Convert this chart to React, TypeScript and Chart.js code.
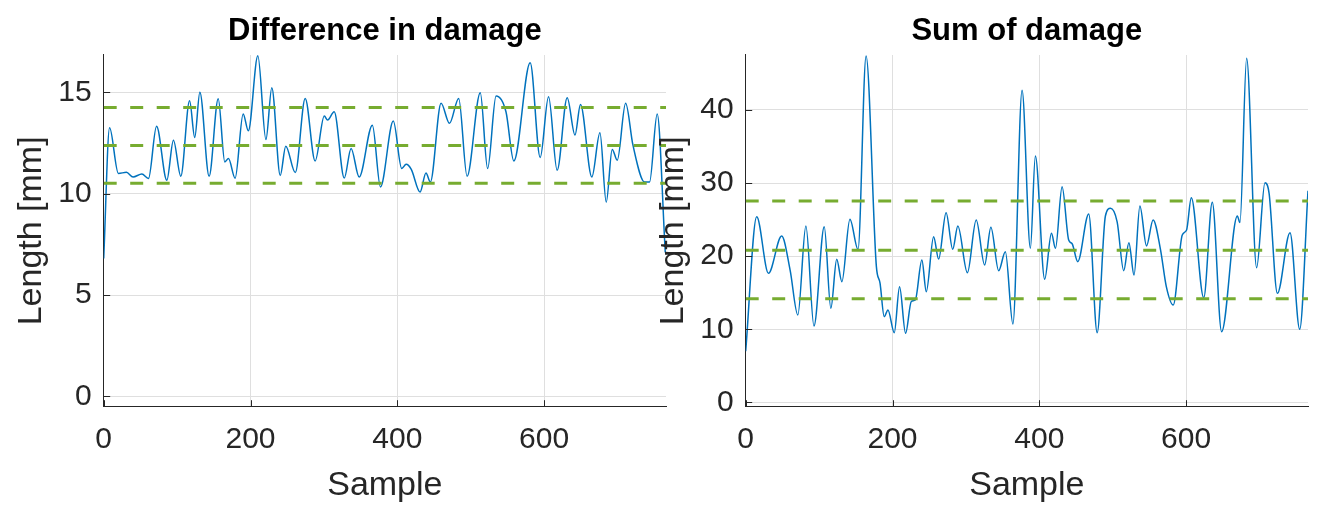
import React, { useEffect, useRef } from 'react';
import Chart from 'chart.js/auto';

// sample axis
const X_MAX = 766;
const xTicks = [0, 200, 400, 600];

// left panel: difference in damage
const diffYTicks = [0, 5, 10, 15];
const diffSamples = [
    0, 8, 20, 31, 40, 52, 61, 72, 86, 95, 105, 117, 124, 131, 143.6, 156, 165, 170, 179, 190,
    197, 210, 221, 229, 240.5, 248, 261, 274.5, 288, 300.5, 305, 314, 327.7, 337, 348, 366, 377,
    394.5, 406, 412, 419, 431, 439, 445, 459.6, 471, 483.6, 495, 513, 523, 534.5, 548, 558.7,
    581, 594.6, 606, 617.7, 631.4, 642, 649.5, 665, 676, 684.6, 692.7, 699.6, 711, 721, 737,
    743.6, 754, 765,
];
const diffValues = [
    6.8, 13.25, 11.0, 11.05, 10.82, 10.97, 10.75, 13.33, 10.66, 12.64, 10.86, 14.58, 12.77, 15.0,
    10.86, 14.68, 11.56, 11.74, 10.76, 13.93, 13.1, 16.8, 12.67, 15.23, 10.9, 12.34, 11.04, 14.7,
    11.61, 13.83, 13.63, 14.04, 10.77, 12.23, 10.82, 13.38, 10.33, 13.58, 11.24, 11.45, 11.2,
    10.08, 11.02, 10.57, 14.46, 13.47, 14.7, 10.86, 14.98, 11.24, 14.82, 14.04, 11.61, 16.46,
    11.78, 14.78, 11.15, 14.73, 12.89, 14.4, 10.82, 13.0, 9.58, 12.18, 11.65, 14.46, 12.39,
    10.57, 10.57, 13.93, 7.1,
];
const diffBands = [10.51, 12.38, 14.25];

// right panel: sum of damage
const sumYTicks = [0, 10, 20, 30, 40];
const sumSamples = [
    0, 15, 31, 49, 60.5, 71, 82, 93, 107, 116, 124, 131, 142, 153, 164, 178, 183, 188.7, 193.8,
    202.4, 209.6, 217.8, 225.6, 231, 240, 246, 256, 262.8, 273, 282, 289, 302, 314, 325.5, 334,
    344.6, 353.7, 364, 376.5, 387.8, 394.6, 407.3, 416.5, 422, 431, 440, 444.7, 452.3, 467.3,
    478.8, 490, 497, 506, 515, 522, 529, 537, 546, 555, 565, 573, 582.4, 594.7, 600.6, 607, 624,
    635.6, 648.3, 669.7, 673.3, 682.4, 696, 707.4, 713, 724.3, 741.5, 754.7, 766,
];
const sumValues = [
    7.0, 25.4, 17.66, 22.76, 18.1, 11.96, 24.13, 10.45, 24.04, 12.87, 19.58, 16.51, 25.05, 20.9,
    47.4, 18.6, 16.3, 11.72, 12.64, 9.54, 15.83, 9.45, 13.8, 14.0, 19.48, 15.15, 22.67, 19.6,
    25.95, 20.94, 24.13, 17.74, 24.95, 18.8, 23.95, 18.02, 20.6, 10.73, 42.7, 21.08, 33.7, 16.84,
    23.13, 21.08, 29.5, 22.2, 21.7, 19.25, 25.77, 9.54, 25.5, 26.55, 24.7, 18.02, 21.85, 17.43,
    26.87, 21.4, 24.95, 20.94, 15.83, 13.32, 22.9, 23.58, 28.0, 14.32, 27.37, 9.67, 25.5, 24.6,
    47.07, 18.43, 30.06, 28.6, 14.92, 23.2, 10.0, 28.96,
];
const sumBands = [14.19, 20.82, 27.54];

const FONT = '"Liberation Sans", Arial, Helvetica, sans-serif';
const AXIS_COLOR = '#262626';
const GRID_COLOR = '#dfdfdf';

// matlab style ticks pointing into the plot
const inwardTicks = {
    id: 'inwardTicks',
    afterDatasetsDraw(chart: any) {
        const { ctx, chartArea, scales } = chart;
        const len = 6.5;
        ctx.save();
        ctx.strokeStyle = AXIS_COLOR;
        ctx.lineWidth = 1;
        ctx.beginPath();
        scales.x.ticks.forEach((t: any) => {
            const px = Math.round(scales.x.getPixelForValue(t.value)) + 0.5;
            ctx.moveTo(px, chartArea.bottom);
            ctx.lineTo(px, chartArea.bottom - len);
        });
        scales.y.ticks.forEach((t: any) => {
            const py = Math.round(scales.y.getPixelForValue(t.value)) + 0.5;
            ctx.moveTo(chartArea.left, py);
            ctx.lineTo(chartArea.left + len, py);
        });
        ctx.stroke();
        ctx.restore();
    },
};

interface PanelProps {
    title: string;
    samples: number[];
    values: number[];
    bands: number[];
    yTicks: number[];
    yMin: number;
    yMax: number;
}

const DamagePanel: React.FC<PanelProps> = ({ title, samples, values, bands, yTicks, yMin, yMax }) => {
    const chartRef = useRef<HTMLCanvasElement>(null);
    const chartInstance = useRef<Chart | null>(null);

    useEffect(() => {
        if (!chartRef.current) return;
        if (chartInstance.current) chartInstance.current.destroy();

        const ctx = chartRef.current.getContext('2d');
        if (!ctx) return;

        chartInstance.current = new Chart(ctx, {
            type: 'line',
            data: {
                datasets: [
                    ...bands.map(b => ({
                        data: [{ x: 0, y: b }, { x: X_MAX, y: b }],
                        borderColor: '#77AC30',
                        borderWidth: 3,
                        borderDash: [13, 13.5],
                        pointRadius: 0,
                        order: 0,
                    })),
                    {
                        data: samples.map((s, i) => ({ x: s, y: values[i] })),
                        borderColor: '#0072BD',
                        borderWidth: 1.5,
                        pointRadius: 0,
                        cubicInterpolationMode: 'monotone' as const,
                        order: 1,
                    },
                ],
            },
            options: {
                responsive: false,
                animation: false,
                layout: { padding: { left: 0, right: 18, top: 0, bottom: 0 } },
                plugins: {
                    legend: { display: false },
                    tooltip: { enabled: false },
                    title: {
                        display: true,
                        text: title,
                        fullSize: false,
                        color: '#000',
                        font: { family: FONT, size: 31, weight: 'bold' },
                        padding: { top: 12.7, bottom: 5.1 },
                    },
                },
                scales: {
                    x: {
                        type: 'linear',
                        min: 0,
                        max: X_MAX,
                        afterBuildTicks: (s: any) => { s.ticks = xTicks.map(v => ({ value: v })); },
                        afterFit: (s: any) => { s.height = 103.3; },
                        grid: { color: GRID_COLOR, drawTicks: false },
                        border: { color: AXIS_COLOR, width: 1 },
                        ticks: { color: AXIS_COLOR, font: { family: FONT, size: 30 }, padding: 15 },
                        title: {
                            display: true,
                            text: 'Sample',
                            color: AXIS_COLOR,
                            font: { family: FONT, size: 34 },
                            padding: { top: 0, bottom: 4.4 },
                        },
                    },
                    y: {
                        type: 'linear',
                        min: yMin,
                        max: yMax,
                        afterBuildTicks: (s: any) => { s.ticks = yTicks.map(v => ({ value: v })); },
                        afterFit: (s: any) => { s.width = 103.7; },
                        grid: { color: GRID_COLOR, drawTicks: false },
                        border: { color: AXIS_COLOR, width: 1 },
                        ticks: { color: AXIS_COLOR, font: { family: FONT, size: 30 }, padding: 12 },
                        title: {
                            display: true,
                            text: 'Length [mm]',
                            color: AXIS_COLOR,
                            font: { family: FONT, size: 34 },
                            padding: { top: 11.1, bottom: 0 },
                        },
                    },
                },
            },
            plugins: [inwardTicks],
        });

        return () => {
            if (chartInstance.current) {
                chartInstance.current.destroy();
                chartInstance.current = null;
            }
        };
    }, [title, samples, values, bands, yTicks, yMin, yMax]);

    return <canvas ref={chartRef} width={684} height={510} style={{ display: 'block' }}></canvas>;
};

const App: React.FC = () => (
    <div style={{ position: 'fixed', left: 0, top: 0, width: 1326, height: 510, background: '#fff' }}>
        <div style={{ position: 'absolute', left: 0, top: 0 }}>
            <DamagePanel
                title="Difference in damage"
                samples={diffSamples}
                values={diffValues}
                bands={diffBands}
                yTicks={diffYTicks}
                yMin={-0.51}
                yMax={16.84}
            />
        </div>
        <div style={{ position: 'absolute', left: 641.6, top: 0 }}>
            <DamagePanel
                title="Sum of damage"
                samples={sumSamples}
                values={sumValues}
                bands={sumBands}
                yTicks={sumYTicks}
                yMin={-0.59}
                yMax={47.52}
            />
        </div>
    </div>
);

export default App;
